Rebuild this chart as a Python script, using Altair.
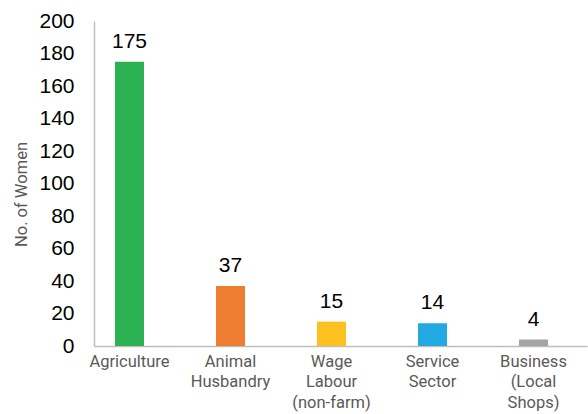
import altair as alt
import pandas as pd

categories = ["Agriculture", "Animal\nHusbandry", "Wage\nLabour\n(non-farm)", "Service\nSector", "Business\n(Local\nShops)"]
values = [175, 37, 15, 14, 4]
colors = ["#2bb052", "#ee7d31", "#fcc01f", "#22a9e1", "#a5a5a5"]

df = pd.DataFrame({"cat": categories, "val": values, "color": colors})

x = alt.X("cat:N", sort=categories, title=None,
          scale=alt.Scale(paddingInner=0.713, paddingOuter=0.297, align=0.35),
          axis=alt.Axis(labelAngle=0, ticks=False, domainColor="#bfbfbf", domainWidth=1.5,
                        labelExpr="split(datum.label, '\\n')", labelFont="Roboto",
                        labelFontSize=16.5, labelColor="#595959",
                        labelLineHeight=20.5, labelPadding=7, labelBaseline="top"))
y = alt.Y("val:Q", title="No. of Women",
          scale=alt.Scale(domain=[0, 200], nice=False),
          axis=alt.Axis(values=list(range(0, 201, 20)), grid=False, ticks=False,
                        domainColor="#bfbfbf", domainWidth=1.5,
                        labelFont="Liberation Sans", labelFontSize=21, labelColor="#000000",
                        labelPadding=20, titleFont="Roboto", titleFontSize=16.5,
                        titleFontWeight="normal",
                        titleColor="#595959",
                        titleX=-68, titleY=173, titleAngle=-90, titleBaseline="alphabetic",
                        titleAlign="center"))

bars = alt.Chart(df).mark_bar().encode(x=x, y=y, color=alt.Color("color:N", scale=None))
labels = alt.Chart(df).mark_text(baseline="bottom", dy=-10, font="Liberation Sans",
                                 fontSize=21, color="#000000").encode(x=x, y=y, text="val:Q")

chart = (bars + labels).properties(
    width=493, height=325,
    autosize=alt.AutoSizeParams(type="none"),
    padding={"left": 94, "top": 21, "right": 1, "bottom": 68},
).configure_view(stroke=None)

chart.save("out.html", embed_options={"renderer": "svg", "actions": False})
